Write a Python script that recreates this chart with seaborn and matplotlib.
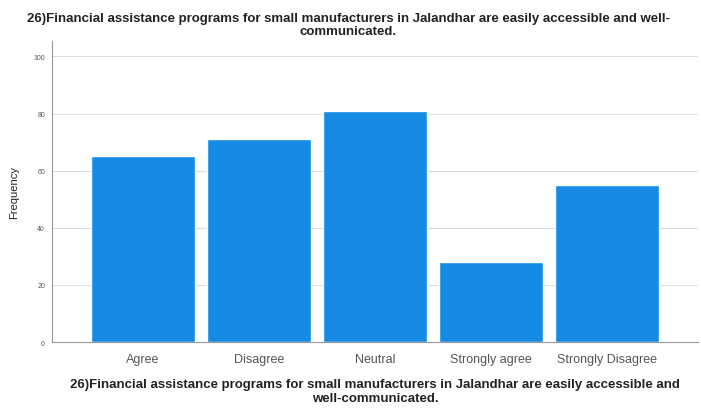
import matplotlib
matplotlib.use("Agg")
import matplotlib.pyplot as plt
import seaborn as sns
import pandas as pd

categories = ["Agree", "Disagree", "Neutral", "Strongly agree", "Strongly Disagree"]
frequency = [65, 71, 81, 28, 55]
y_ticks = [0, 20, 40, 60, 80, 100]

question = ("26)Financial assistance programs for small manufacturers in Jalandhar are easily accessible and well-\n"
            "communicated.")
xlabel_text = ("26)Financial assistance programs for small manufacturers in Jalandhar are easily accessible and\n"
               "well-communicated.")

sns.set_style("white")
plt.rcParams["font.family"] = ["Liberation Sans", "DejaVu Sans"]

df = pd.DataFrame({"category": categories, "frequency": frequency})

fig = plt.figure(figsize=(7.01, 4.10), dpi=100)
ax = fig.add_axes([0.0742, 0.1634, 0.9215, 0.7342])

sns.barplot(data=df, x="category", y="frequency", color="#168be6",
            saturation=1, width=0.9, ax=ax, zorder=3)

ax.set_xlim(-0.784, 4.784)
ax.set_ylim(0, 105.4)
ax.set_yticks(y_ticks)
ax.set_yticklabels([str(t) for t in y_ticks], fontsize=5, color="#555555")
ax.tick_params(axis="x", labelsize=9, length=0, pad=8)
ax.tick_params(axis="x", labelcolor="#555555")
ax.tick_params(axis="y", length=3, width=0.6, color="#999999", pad=2)

for t in y_ticks[1:]:
    ax.axhline(t, color="#dddddd", linewidth=0.8, zorder=1)

for side in ["top", "right"]:
    ax.spines[side].set_visible(False)
for side in ["left", "bottom"]:
    ax.spines[side].set_color("#999999")
    ax.spines[side].set_linewidth(0.8)

ax.set_ylabel("Frequency", fontsize=8, color="#222222", labelpad=10)
ax.set_xlabel(xlabel_text, fontsize=9.5, fontweight="bold", color="#222222",
              labelpad=9, linespacing=1.25)

fig.suptitle(question, x=0.497, y=0.968, fontsize=9.5, fontweight="bold",
             color="#222222", linespacing=1.05)

fig.savefig("out.png", dpi=100, facecolor="white")
